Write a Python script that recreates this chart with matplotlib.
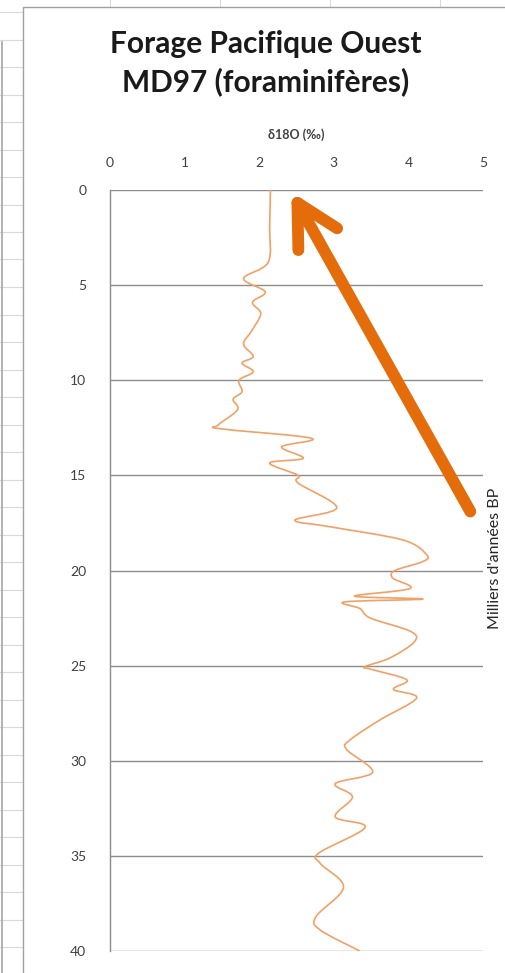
import numpy as np
import matplotlib
matplotlib.use("Agg")
from matplotlib import pyplot as plt
from matplotlib.path import Path
from matplotlib.patches import PathPatch, Rectangle
from matplotlib.lines import Line2D

plt.rcParams['font.family'] = ['Lato', 'DejaVu Sans']

# données (profondeur en milliers d'années BP, delta18O en pour mille)
age_kyr = [0, 1.9, 3.8, 4.65, 5.35, 5.9, 6.5, 7.4, 8.1, 8.75, 9.1, 9.55, 10.0,
           10.6, 11.0, 11.55, 12.35, 12.55, 13.05, 13.5, 14.1, 14.35, 15.0,
           15.4, 16.7, 17.35, 17.7, 18.4, 19.2, 19.55, 20.0, 20.4, 20.95,
           21.35, 21.5, 21.65, 22.0, 22.5, 23.2, 23.75, 24.6, 25.05,
           25.2, 25.75, 26.25, 26.7, 27.85, 28.9, 29.4, 30.6, 31.2, 31.9,
           32.95, 33.5, 34.85, 35.4, 36.65, 38.2, 38.9, 40.0]
d18o = [2.15, 2.14, 2.12, 1.79, 2.08, 1.91, 2.02, 1.90, 1.79, 1.92, 1.77, 1.92, 1.73,
        1.77, 1.65, 1.71, 1.45, 1.48, 2.70, 2.30, 2.59, 2.14, 2.52,
        2.52, 3.04, 2.48, 2.95, 3.93, 4.25, 4.18, 3.82, 3.79, 4.02,
        3.28, 4.20, 3.15, 3.35, 3.49, 4.03, 4.08, 3.75, 3.42,
        3.51, 3.98, 3.80, 4.11, 3.62, 3.22, 3.17, 3.52, 3.02, 3.25,
        3.02, 3.42, 2.80, 2.82, 3.13, 2.76, 2.82, 3.35]
x_ticks = [0, 1, 2, 3, 4, 5]
y_ticks = [0, 5, 10, 15, 20, 25, 30, 35, 40]

W, H = 506, 973
fig = plt.figure(figsize=(W / 100, H / 100), dpi=100)
fig.patch.set_facecolor('white')

# fond de tableur visible autour du graphique
grid_c = '#d9d9d9'
for xc in [110, 220, 330, 440]:
    fig.add_artist(Line2D([xc / W, xc / W], [1, 1 - 7 / H], color=grid_c, lw=0.8, zorder=-2))
for k in range(36):
    yc = 12 + 27.5 * k
    fig.add_artist(Line2D([0, 23 / W], [1 - yc / H, 1 - yc / H], color=grid_c, lw=0.8, zorder=-2))
fig.add_artist(Line2D([2 / W, 2 / W], [1 - 42 / H, 0], color='#a6a6a6', lw=1.2, zorder=-2))
fig.add_artist(Rectangle((23 / W, -0.1), 1.2, 1 - 7 / H + 0.1, facecolor='white',
                         edgecolor='#a0a0a0', lw=1.0, zorder=-1))

ax = fig.add_axes([110 / W, 1 - 951 / H, 373 / W, 761 / H])
ax.set_facecolor('none')
ax.set_xlim(0, 5)
ax.set_ylim(40, 0)
ax.set_xticks(x_ticks)
ax.set_yticks(y_ticks)
ax.xaxis.tick_top()
ax.xaxis.set_label_position('top')
ax.tick_params(axis='both', length=0, labelsize=10, labelcolor='#404040')
ax.tick_params(axis='x', pad=15)
ax.tick_params(axis='y', pad=17)
for s in ['top', 'right', 'bottom']:
    ax.spines[s].set_visible(False)
ax.spines['left'].set_color('#8c8c8c')
ax.spines['left'].set_linewidth(1.0)
ax.yaxis.grid(True, color='#8c8c8c', lw=1.0)
ax.set_axisbelow(True)
ax.set_xlabel('δ18O (‰)', fontsize=9, fontweight='bold', color='#404040', labelpad=13)

# courbe lissée (comme "courbe lissée" d'Excel)
pts = np.column_stack([d18o, age_kyr])
n = len(pts)
verts = [pts[0]]
codes = [Path.MOVETO]
for i in range(n - 1):
    p0 = pts[max(i - 1, 0)]
    p1 = pts[i]
    p2 = pts[i + 1]
    p3 = pts[min(i + 2, n - 1)]
    verts += [p1 + (p2 - p0) / 6, p2 - (p3 - p1) / 6, p2]
    codes += [Path.CURVE4] * 3
ax.add_patch(PathPatch(Path(verts, codes), fill=False, edgecolor='#F2A066', lw=1.2))

# flèche
ax.annotate('', xy=(2.43, 0.1), xytext=(4.83, 16.9),
            arrowprops=dict(arrowstyle='->,head_length=3.0,head_width=1.6',
                            mutation_scale=10, color='#E46C0A', lw=8.5,
                            capstyle='round', joinstyle='round',
                            shrinkA=0, shrinkB=0),
            annotation_clip=False)

fig.text(266 / W, 1 - 63 / H, 'Forage Pacifique Ouest\nMD97 (foraminifères)',
         ha='center', va='center', fontsize=21.5, fontweight='bold',
         color='#1a1a1a', linespacing=1.35)
fig.text(495 / W, 1 - 558 / H, "Milliers d'années BP", rotation=90,
         ha='center', va='center', fontsize=11.5, color='#262626')

fig.savefig('out.png', dpi=100)
